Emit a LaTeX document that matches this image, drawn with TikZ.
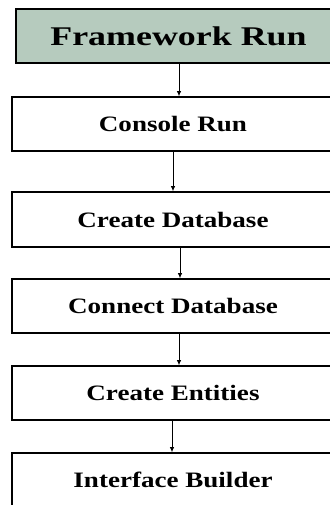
\documentclass[tikz,border=0pt]{standalone}
\usepackage{fontspec}
\setmainfont{Liberation Serif}
\usetikzlibrary{arrows.meta}
\definecolor{headfill}{RGB}{182,203,190}
\tikzset{
  stepbox/.style={draw=black, line width=1.6pt, rectangle, minimum width=348pt, minimum height=54pt, inner sep=0pt},
  headbox/.style={stepbox, fill=headfill, minimum width=344pt},
  arr/.style={draw=black, line width=0.8pt, -{Latex[length=5pt,width=4.5pt]}}
}
% label text, padded on the right so it sits left of the box centre
\newcommand{\steplabel}[1]{\hbox{\scalebox{1.23}[1]{\fontsize{22}{26}\selectfont\bfseries #1}\kern26pt}}
\begin{document}
\begin{tikzpicture}[x=1pt,y=-1pt]
  \fill[white] (0,0) rectangle (329,505);

  \node[headbox] (fw) at (188,36) {\hbox{\scalebox{1.33}[1]{\fontsize{27}{32}\selectfont\bfseries Framework Run}\kern19pt}};
  \node[stepbox] (cr) at (186,124) {\steplabel{Console Run}};
  \node[stepbox, minimum height=55pt] (cdb) at (186,219.5) {\steplabel{Create Database}};
  \node[stepbox] (kdb) at (186,306) {\steplabel{Connect Database}};
  \node[stepbox] (ce) at (186,393) {\steplabel{Create Entities}};
  \node[stepbox] (ib) at (186,480) {\steplabel{Interface Builder}};

  \draw[arr] (179,0 |- fw.south) -- (179,0 |- cr.north);
  \draw[arr] (173,0 |- cr.south) -- (173,0 |- cdb.north);
  \draw[arr] (180,0 |- cdb.south) -- (180,0 |- kdb.north);
  \draw[arr] (179,0 |- kdb.south) -- (179,0 |- ce.north);
  \draw[arr] (172,0 |- ce.south) -- (172,0 |- ib.north);

  % page extent: the boxes run on past the right edge
  \pgfresetboundingbox
  \useasboundingbox (0,0) rectangle (329,505);
\end{tikzpicture}
\end{document}
